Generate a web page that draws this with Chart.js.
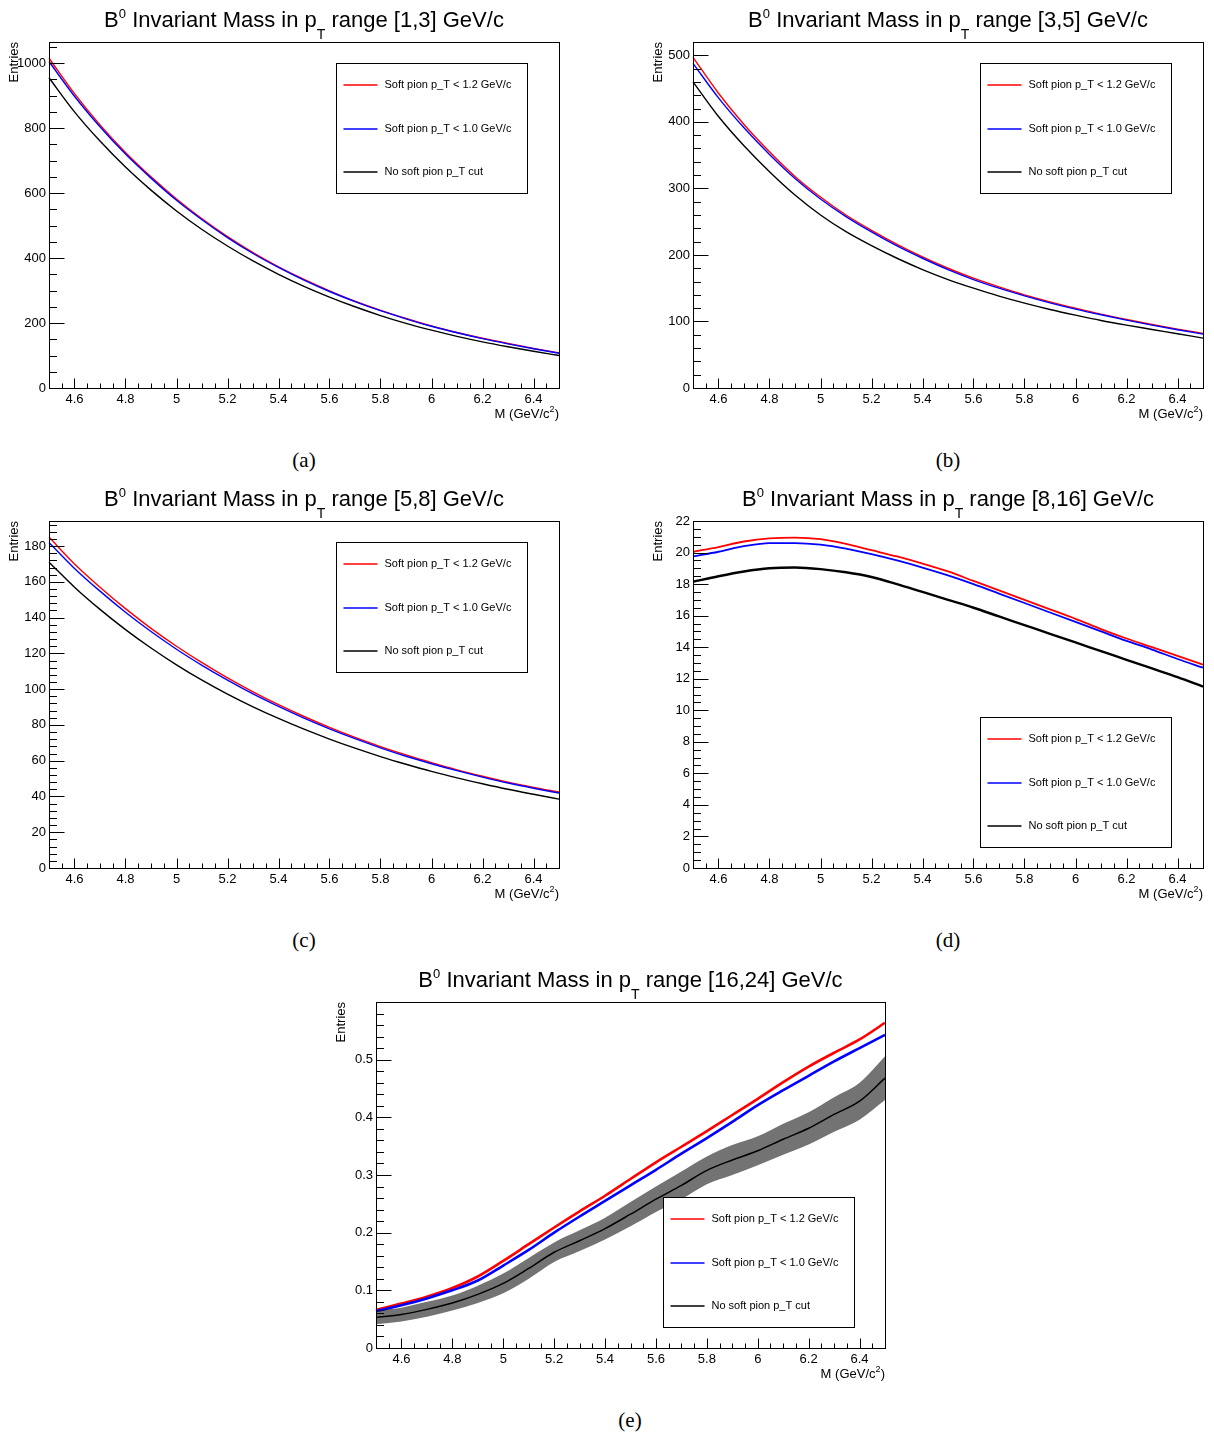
<!DOCTYPE html>
<html>
<head>
<meta charset="utf-8">
<script src="https://cdn.jsdelivr.net/npm/chart.js@4.4.1/dist/chart.umd.min.js"></script>
<style>
  body { margin: 0; background: #fff; }
  #page { position: relative; width: 1214px; height: 1437px; overflow: hidden; }
  .panel-canvas { position: absolute; }
  .title { position: absolute; text-align: center; font: 22px "Liberation Sans", Arial, sans-serif; line-height: 24px; white-space: nowrap; color: #000; }
  .title .sup { position: relative; top: -9px; font-size: 13px; }
  .title .sub { position: relative; top: 12px; font-size: 14px; }
  .caption { position: absolute; width: 80px; text-align: center; font: 21px "Liberation Serif", "DejaVu Serif", serif; line-height: 24px; }
</style>
</head>
<body>
<div id="page"></div>
<script>
// mass bin centres (GeV/c^2) used for every series
const massPoints = [4.5, 4.6, 4.7, 4.8, 4.9, 5.0, 5.1, 5.2, 5.3, 5.4, 5.5, 5.6, 5.7, 5.8, 5.9, 6.0, 6.1, 6.2, 6.3, 6.4, 6.5];

const seriesLabels = ['Soft pion p_T < 1.2 GeV/c', 'Soft pion p_T < 1.0 GeV/c', 'No soft pion p_T cut'];
const ptRanges = ['[1,3]', '[3,5]', '[5,8]', '[8,16]', '[16,24]'];
const captions = ['(a)', '(b)', '(c)', '(d)', '(e)'];

const xTickValues = [4.6, 4.8, 5.0, 5.2, 5.4, 5.6, 5.8, 6.0, 6.2, 6.4];
const xTickLabels = ['4.6', '4.8', '5', '5.2', '5.4', '5.6', '5.8', '6', '6.2', '6.4'];

// (a) pT [1,3]
const redA   = [1015, 906, 810, 725, 650, 582, 521, 466, 417, 373, 334, 299, 267, 239, 214, 191, 171, 153, 137, 122, 108];
const blueA  = [1005, 898, 804, 720, 646, 578, 518, 463, 414, 371, 332, 297, 266, 238, 213, 190, 170, 152, 136, 121, 107];
const blackA = [955, 850, 760, 680, 609, 545, 488, 437, 391, 350, 313, 280, 250, 223, 199, 178, 159, 142, 127, 113, 100];
const yTicksA = [0, 200, 400, 600, 800, 1000];
const yLabelsA = ['0', '200', '400', '600', '800', '1000'];

// (b) pT [3,5]
const redB   = [497, 443, 396, 355, 318, 287, 260, 237, 216, 197, 180, 165, 152, 140, 129.5, 120, 111, 103, 95.5, 88.5, 82];
const blueB  = [488, 436, 391, 351, 315, 284, 257.5, 234.5, 213.5, 195, 178, 163, 150, 138.5, 128, 118.5, 110, 102, 94.5, 87.5, 81];
const blackB = [460, 408, 364, 325, 290, 260, 235, 214, 195, 178, 163, 150, 138, 127.5, 118, 109.5, 101.5, 94.5, 88, 81.5, 75];
const yTicksB = [0, 100, 200, 300, 400, 500];
const yLabelsB = ['0', '100', '200', '300', '400', '500'];

// (c) pT [5,8]
const redC   = [185, 170, 157, 145, 134, 124, 114.8, 106.3, 98.5, 91.3, 84.7, 78.6, 73, 67.9, 63.2, 58.9, 54.9, 51.3, 48, 45.1, 42.5];
const blueC  = [182, 167.5, 154.8, 143, 132.2, 122.3, 113.3, 105, 97.3, 90.3, 83.8, 77.8, 72.3, 67.2, 62.5, 58.3, 54.4, 50.8, 47.5, 44.6, 41.9];
const blackC = [171, 157, 144.6, 133.3, 123, 113.6, 105, 97.2, 90.1, 83.6, 77.6, 72.1, 67, 62.3, 58, 54, 50.4, 47.1, 44, 41.2, 38.5];
const yTicksC = [0, 20, 40, 60, 80, 100, 120, 140, 160, 180];
const yLabelsC = ['0', '20', '40', '60', '80', '100', '120', '140', '160', '180'];

// (d) pT [8,16]
const redD   = [20.05, 20.35, 20.7, 20.9, 20.95, 20.85, 20.55, 20.15, 19.75, 19.3, 18.8, 18.2, 17.6, 17.0, 16.4, 15.8, 15.15, 14.55, 14.0, 13.45, 12.9];
const blueD  = [19.75, 20.05, 20.4, 20.6, 20.6, 20.5, 20.25, 19.9, 19.5, 19.05, 18.55, 18.0, 17.4, 16.8, 16.2, 15.6, 15.0, 14.4, 13.85, 13.25, 12.7];
const blackD = [18.15, 18.5, 18.8, 19.0, 19.05, 18.95, 18.75, 18.45, 18.0, 17.5, 17.0, 16.5, 15.95, 15.4, 14.85, 14.3, 13.75, 13.2, 12.65, 12.1, 11.5];
const yTicksD = [0, 2, 4, 6, 8, 10, 12, 14, 16, 18, 20, 22];
const yLabelsD = ['0', '2', '4', '6', '8', '10', '12', '14', '16', '18', '20', '22'];

// (e) pT [16,24]
const redE   = [0.066, 0.077, 0.089, 0.104, 0.124, 0.151, 0.18, 0.209, 0.237, 0.264, 0.293, 0.322, 0.349, 0.376, 0.404, 0.432, 0.461, 0.488, 0.512, 0.535, 0.564];
const blueE  = [0.064, 0.074, 0.086, 0.100, 0.117, 0.143, 0.17, 0.2, 0.228, 0.255, 0.282, 0.309, 0.337, 0.364, 0.392, 0.421, 0.447, 0.472, 0.497, 0.52, 0.543];
const blackE = [0.053, 0.058, 0.067, 0.078, 0.093, 0.112, 0.138, 0.166, 0.186, 0.207, 0.232, 0.258, 0.282, 0.308, 0.326, 0.342, 0.362, 0.381, 0.405, 0.428, 0.468];
const blackEHigh = [0.065, 0.070, 0.080, 0.091, 0.108, 0.129, 0.156, 0.183, 0.204, 0.226, 0.253, 0.280, 0.306, 0.332, 0.352, 0.367, 0.389, 0.409, 0.435, 0.460, 0.506];
const blackELow  = [0.041, 0.046, 0.054, 0.065, 0.078, 0.095, 0.120, 0.149, 0.168, 0.188, 0.211, 0.236, 0.258, 0.284, 0.300, 0.317, 0.335, 0.353, 0.375, 0.396, 0.430];
const yTicksE = [0, 0.1, 0.2, 0.3, 0.4, 0.5];
const yLabelsE = ['0', '0.1', '0.2', '0.3', '0.4', '0.5'];

const RED = '#ff0000', BLUE = '#0000ff', BLACK = '#000000';
const FONT = '"Liberation Sans", Arial, sans-serif';

// frame placement on the page (pixels) and axis settings
const panels = [
  { left: 49,  top: 42,   w: 510, h: 346, yMax: 1065, yTicks: yTicksA, yLabels: yLabelsA, yMinor: 50,   red: redA, blue: blueA, black: blackA, legendTop: 21,  lw: 1.4, capX: 304, capY: 448 },
  { left: 693, top: 42,   w: 510, h: 346, yMax: 520,  yTicks: yTicksB, yLabels: yLabelsB, yMinor: 20,   red: redB, blue: blueB, black: blackB, legendTop: 21,  lw: 1.4, capX: 948, capY: 448 },
  { left: 49,  top: 521,  w: 510, h: 347, yMax: 194,  yTicks: yTicksC, yLabels: yLabelsC, yMinor: 4,    red: redC, blue: blueC, black: blackC, legendTop: 21,  lw: 1.4, capX: 304, capY: 928 },
  { left: 693, top: 521,  w: 510, h: 347, yMax: 22,   yTicks: yTicksD, yLabels: yLabelsD, yMinor: 0.5,  red: redD, blue: blueD, black: blackD, legendTop: 196, lw: 1.8, blackLw: 2.4, capX: 948, capY: 928 },
  { left: 376, top: 1002, w: 509, h: 346, yMax: 0.6,  yTicks: yTicksE, yLabels: yLabelsE, yMinor: 0.02, red: redE, blue: blueE, black: blackE, band: [blackELow, blackEHigh], legendTop: 195, lw: 2.6, blackLw: 1.5, capX: 630, capY: 1408 }
];

const PAD = { left: 49, top: 12, right: 51, bottom: 42 };

const rootStyle = {
  id: 'rootStyle',
  afterDraw(chart, args, o) {
    const { ctx, chartArea: a, scales: { x, y } } = chart;
    const L = Math.round(a.left) + 0.5, R = Math.round(a.right) + 0.5;
    const T = Math.round(a.top) + 0.5, B = Math.round(a.bottom) + 0.5;
    ctx.save();
    ctx.strokeStyle = '#000';
    ctx.lineWidth = 1;
    ctx.beginPath();
    // x ticks (inside the frame)
    for (let i = 0; i <= 40; i++) {
      const v = 4.5 + i * 0.05;
      const px = Math.round(x.getPixelForValue(v)) + 0.5;
      const major = xTickValues.some(t => Math.abs(t - v) < 1e-6);
      ctx.moveTo(px, B);
      ctx.lineTo(px, B - (major ? 10 : 5));
    }
    // y ticks
    const n = Math.floor(o.yMax / o.yMinor + 1e-6);
    for (let i = 0; i <= n; i++) {
      const v = i * o.yMinor;
      const py = Math.round(y.getPixelForValue(v)) + 0.5;
      const major = o.yTicks.some(t => Math.abs(t - v) < 1e-6);
      ctx.moveTo(L, py);
      ctx.lineTo(L + (major ? 15 : 7.5), py);
    }
    ctx.stroke();
    ctx.strokeRect(L, T, R - L, B - T);

    // tick labels
    ctx.fillStyle = '#000';
    ctx.font = '13px ' + FONT;
    ctx.textAlign = 'center';
    ctx.textBaseline = 'top';
    xTickValues.forEach((v, i) => ctx.fillText(xTickLabels[i], x.getPixelForValue(v), a.bottom + 5));
    ctx.textAlign = 'right';
    ctx.textBaseline = 'middle';
    o.yTicks.forEach((v, i) => ctx.fillText(o.yLabels[i], a.left - 3, y.getPixelForValue(v)));

    // axis titles
    ctx.textAlign = 'right';
    ctx.textBaseline = 'alphabetic';
    ctx.font = '13px ' + FONT;
    ctx.fillText(')', a.right, a.bottom + 30);
    ctx.font = '9px ' + FONT;
    ctx.fillText('2', a.right - 4.5, a.bottom + 24);
    ctx.font = '13px ' + FONT;
    ctx.fillText('M (GeV/c', a.right - 9.5, a.bottom + 30);
    ctx.save();
    ctx.translate(a.left - 35, a.top);
    ctx.rotate(-Math.PI / 2);
    ctx.textAlign = 'right';
    ctx.textBaseline = 'middle';
    ctx.fillText('Entries', 0, 0);
    ctx.restore();

    // legend box
    const lx = Math.round(a.left + 287) + 0.5, ly = Math.round(a.top + o.legendTop) + 0.5;
    ctx.fillStyle = '#fff';
    ctx.fillRect(lx, ly, 191, 130);
    ctx.strokeStyle = '#000';
    ctx.strokeRect(lx, ly, 191, 130);
    const cols = [RED, BLUE, BLACK];
    const offs = [21, 65, 108];
    ctx.font = '11px ' + FONT;
    ctx.textAlign = 'left';
    ctx.textBaseline = 'middle';
    seriesLabels.forEach((s, i) => {
      const yy = Math.round(ly + offs[i]);
      ctx.strokeStyle = cols[i];
      ctx.lineWidth = 1.5;
      ctx.beginPath();
      ctx.moveTo(lx + 7, yy);
      ctx.lineTo(lx + 41, yy);
      ctx.stroke();
      ctx.fillStyle = '#000';
      ctx.fillText(s, lx + 48, yy);
    });
    ctx.restore();
  }
};

function series(vals) {
  return vals.map((v, i) => ({ x: massPoints[i], y: v }));
}

const page = document.getElementById('page');

panels.forEach((p, k) => {
  const cw = PAD.left + p.w + PAD.right, ch = PAD.top + p.h + PAD.bottom;
  const canvas = document.createElement('canvas');
  canvas.className = 'panel-canvas';
  canvas.width = cw;
  canvas.height = ch;
  canvas.style.left = (p.left - PAD.left) + 'px';
  canvas.style.top = (p.top - PAD.top) + 'px';
  canvas.style.width = cw + 'px';
  canvas.style.height = ch + 'px';
  page.appendChild(canvas);

  const title = document.createElement('div');
  title.className = 'title';
  title.style.left = (p.left - 100) + 'px';
  title.style.width = (p.w + 200) + 'px';
  title.style.top = (p.top - 34) + 'px';
  title.innerHTML = 'B<span class="sup">0</span> Invariant Mass in p<span class="sub">T</span> range ' + ptRanges[k] + ' GeV/c';
  page.appendChild(title);

  const cap = document.createElement('div');
  cap.className = 'caption';
  cap.style.left = (p.capX - 40) + 'px';
  cap.style.top = p.capY + 'px';
  cap.textContent = captions[k];
  page.appendChild(cap);

  const common = { pointRadius: 0, fill: false, cubicInterpolationMode: 'monotone' };
  const datasets = [];
  if (p.band) {
    datasets.push({ ...common, label: 'low', data: series(p.band[0]), borderWidth: 0, borderColor: 'rgba(0,0,0,0)' });
    datasets.push({ ...common, label: 'high', data: series(p.band[1]), borderWidth: 0, borderColor: 'rgba(0,0,0,0)', fill: '-1', backgroundColor: 'rgba(0,0,0,0.55)' });
  }
  datasets.push({ ...common, label: seriesLabels[2], data: series(p.black), borderColor: BLACK, borderWidth: p.blackLw || p.lw });
  datasets.push({ ...common, label: seriesLabels[1], data: series(p.blue), borderColor: BLUE, borderWidth: p.lw });
  datasets.push({ ...common, label: seriesLabels[0], data: series(p.red), borderColor: RED, borderWidth: p.lw });

  new Chart(canvas, {
    type: 'line',
    data: { datasets },
    options: {
      responsive: false,
      animation: false,
      devicePixelRatio: 1,
      layout: { padding: PAD },
      clip: false,
      scales: {
        x: { type: 'linear', min: 4.5, max: 6.5, display: false },
        y: { type: 'linear', min: 0, max: p.yMax, display: false }
      },
      plugins: {
        legend: { display: false },
        tooltip: { enabled: false },
        rootStyle: p
      }
    },
    plugins: [rootStyle]
  });
});
</script>
</body>
</html>
